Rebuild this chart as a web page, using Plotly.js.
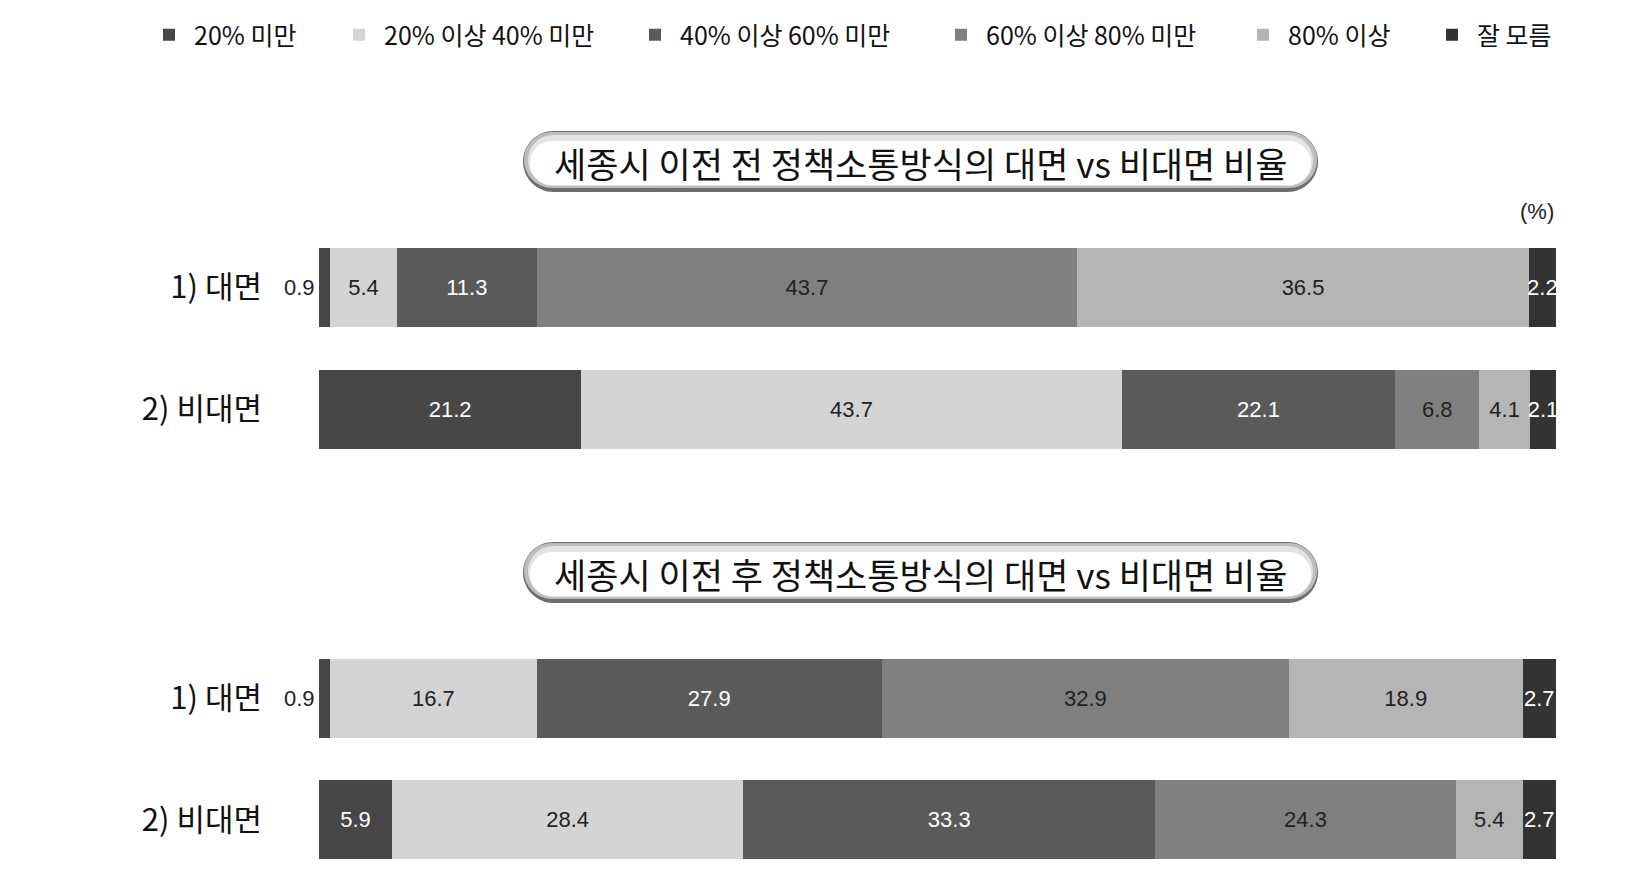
<!DOCTYPE html>
<html>
<head>
<meta charset="utf-8">
<script src="https://cdn.plot.ly/plotly-3.0.1.min.js"></script>
<style>html,body{margin:0;padding:0;background:#fff;}#chart{width:1649px;height:894px;}</style>
</head>
<body>
<div id="chart"></div>
<script>
// ---- data ----
const categories = ['1) 대면', '2) 비대면'];
const seriesNames = ['20% 미만', '20% 이상 40% 미만', '40% 이상 60% 미만', '60% 이상 80% 미만', '80% 이상', '잘 모름'];
const beforeFace    = [0.9, 5.4, 11.3, 43.7, 36.5, 2.2];
const beforeNonface = [21.2, 43.7, 22.1, 6.8, 4.1, 2.1];
const afterFace     = [0.9, 16.7, 27.9, 32.9, 18.9, 2.7];
const afterNonface  = [5.9, 28.4, 33.3, 24.3, 5.4, 2.7];
const panelTitles = ['세종시 이전 전 정책소통방식의 대면 vs 비대면 비율', '세종시 이전 후 정책소통방식의 대면 vs 비대면 비율'];
const unitLabel = '(%)';

// ---- styles ----
const W = 1649, H = 894;
const colors = ['#474747', '#d4d4d4', '#5a5a5a', '#808080', '#b5b5b5', '#333333'];
const textColors = ['#ffffff', '#222222', '#ffffff', '#222222', '#222222', '#ffffff'];
const legendX = [168, 358, 654, 960, 1262, 1451];
const KR = '"Noto Sans CJK KR", "Noto Sans", sans-serif';
const NUM = '"Liberation Sans", Arial, sans-serif';

const X = px => px / W;
const Y = py => 1 - py / H;

const panels = [
  {face: beforeFace, nonface: beforeNonface, xa: 'x', ya: 'y'},
  {face: afterFace, nonface: afterNonface, xa: 'x2', ya: 'y2'}
];

const traces = [];
const annotations = [];
panels.forEach((p, pi) => {
  seriesNames.forEach((name, si) => {
    const vals = [p.face[si], p.nonface[si]];
    traces.push({
      type: 'bar', orientation: 'h',
      name: name,
      x: vals, y: categories,
      xaxis: p.xa, yaxis: p.ya,
      marker: {color: colors[si], line: {width: 0}},
      text: vals.map(v => v < 1 ? '' : v.toFixed(1)),
      textposition: 'inside', insidetextanchor: 'middle',
      constraintext: 'none', textangle: 0,
      textfont: {family: NUM, size: 22, color: textColors[si]},
      cliponaxis: true,
      hoverinfo: 'name+x',
      showlegend: pi === 0,
      legend: si === 0 ? 'legend' : 'legend' + (si + 1)
    });
    vals.forEach((v, ci) => {
      if (v < 1 && si === 0) {
        annotations.push({
          x: 0, y: categories[ci], xref: p.xa, yref: p.ya,
          xanchor: 'right', yanchor: 'middle', xshift: -2,
          text: v.toFixed(1), showarrow: false,
          font: {family: NUM, size: 22, color: '#222'}
        });
      }
    });
  });
});

// rounded pill path in paper coords from pixel box
function pillPath(x0, y0, x1, y1) {
  const r = (y1 - y0) / 2, k = 0.5523 * r;
  const pts = [
    ['M', x0 + r, y0],
    ['L', x1 - r, y0],
    ['C', x1 - r + k, y0, x1, y0 + r - k, x1, y0 + r],
    ['C', x1, y0 + r + k, x1 - r + k, y1, x1 - r, y1],
    ['L', x0 + r, y1],
    ['C', x0 + r - k, y1, x0, y0 + r + k, x0, y0 + r],
    ['C', x0, y0 + r - k, x0 + r - k, y0, x0 + r, y0]
  ];
  return pts.map(s => {
    let out = s[0];
    for (let i = 1; i < s.length; i += 2) out += ' ' + X(s[i]).toFixed(5) + ',' + Y(s[i + 1]).toFixed(5);
    return out;
  }).join(' ') + ' Z';
}
const shapes = [];
const pillBoxes = [[523, 131, 1318, 192], [523, 542, 1318, 603]];
pillBoxes.forEach(b => {
  const [x0, y0, x1, y1] = b;
  shapes.push({type: 'path', xref: 'paper', yref: 'paper', path: pillPath(x0, y0, x1, y1), fillcolor: '#6e6e6e', line: {width: 0}, layer: 'below'});
  shapes.push({type: 'path', xref: 'paper', yref: 'paper', path: pillPath(x0 + 1, y0 + 1, x1 - 1, y1 - 4), fillcolor: '#bdbdbd', line: {width: 0}, layer: 'below'});
  shapes.push({type: 'path', xref: 'paper', yref: 'paper', path: pillPath(x0 + 5, y0 + 4, x1 - 5, y1 - 6), fillcolor: '#e3e3e3', line: {width: 0}, layer: 'below'});
  shapes.push({type: 'path', xref: 'paper', yref: 'paper', path: pillPath(x0 + 7, y0 + 10, x1 - 7, y1 - 7), fillcolor: '#ffffff', line: {width: 0}, layer: 'below'});
});

panelTitles.forEach((t, i) => {
  const b = pillBoxes[i];
  annotations.push({
    x: X((b[0] + b[2]) / 2), y: Y((b[1] + b[3]) / 2 + 1), xref: 'paper', yref: 'paper',
    xanchor: 'center', yanchor: 'middle', showarrow: false,
    text: t, font: {family: KR, size: 35, color: '#111'}
  });
});
annotations.push({
  x: X(1556), y: Y(211), xref: 'paper', yref: 'paper', xanchor: 'right', yanchor: 'middle',
  showarrow: false, text: unitLabel, font: {family: NUM, size: 22, color: '#222'}
});

const layout = {
  width: W, height: H,
  margin: {l: 0, r: 0, t: 0, b: 0},
  paper_bgcolor: '#fff', plot_bgcolor: 'rgba(0,0,0,0)',
  barmode: 'stack', bargap: 0.35,
  showlegend: true,
  xaxis:  {domain: [X(319), X(1556)], range: [0, 100], visible: false, fixedrange: true},
  xaxis2: {domain: [X(319), X(1556)], range: [0, 100], visible: false, anchor: 'y2', fixedrange: true},
  yaxis:  {domain: [Y(470.5), Y(226.5)], type: 'category', autorange: 'reversed', showgrid: false, zeroline: false, showline: false,
           ticks: '', ticklabelstandoff: 56, tickfont: {family: KR, size: 31, color: '#111'}},
  yaxis2: {domain: [Y(880.5), Y(637.5)], type: 'category', autorange: 'reversed', showgrid: false, zeroline: false, showline: false,
           anchor: 'x2', ticks: '', ticklabelstandoff: 56, tickfont: {family: KR, size: 31, color: '#111'}},
  shapes: shapes,
  annotations: annotations,
  font: {family: KR}
};
legendX.forEach((lx, i) => {
  const key = i === 0 ? 'legend' : 'legend' + (i + 1);
  layout[key] = {
    x: X(lx - 24), y: Y(35), xanchor: 'left', yanchor: 'middle',
    orientation: 'h', bgcolor: 'rgba(0,0,0,0)', borderwidth: 0,
    font: {family: KR, size: 25, color: '#111'}, itemwidth: 40
  };
});

Plotly.newPlot('chart', traces, layout, {displayModeBar: false, staticPlot: true});
</script>
</body>
</html>
